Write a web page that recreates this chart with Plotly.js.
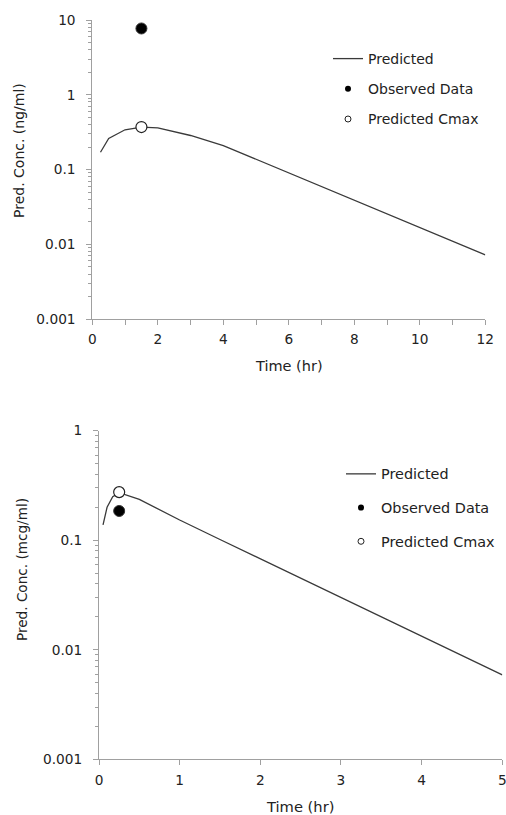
<!DOCTYPE html>
<html>
<head>
<meta charset="utf-8">
<script src="https://cdn.plot.ly/plotly-3.0.1.min.js"></script>
<style>html,body{margin:0;padding:0;background:#fff}#chart{width:506px;height:815px}</style>
</head>
<body>
<div id="chart"></div>
<script>
// Top chart (ng/ml)
const timeTop = [0.25, 0.5, 1, 1.5, 2, 3, 4, 5, 6, 7, 8, 9, 10, 11, 12];
const predTop = [0.17, 0.26, 0.34, 0.37, 0.36, 0.285, 0.209, 0.137, 0.090, 0.059, 0.0388, 0.0255, 0.0167, 0.011, 0.0072];
const obsTimeTop = [1.5];
const obsTop = [7.7];
const cmaxTimeTop = [1.5];
const cmaxTop = [0.37];

// Bottom chart (mcg/ml)
const timeBot = [0.05, 0.1, 0.17, 0.25, 0.5, 1, 1.5, 2, 3, 4, 5];
const predBot = [0.138, 0.2, 0.25, 0.272, 0.236, 0.153, 0.1016, 0.0677, 0.030, 0.0133, 0.0059];
const obsTimeBot = [0.25];
const obsBot = [0.185];
const cmaxTimeBot = [0.25];
const cmaxBot = [0.275];

const legendNames = ['Predicted', 'Observed Data', 'Predicted Cmax'];

const lineColor = '#3a3a3a';
const axisColor = '#a0a0a0';
const FONT = 'DejaVu Sans, Verdana, sans-serif';

function lineTrace(x, y, xa, ya) {
  return {x: x, y: y, xaxis: xa, yaxis: ya, mode: 'lines', type: 'scatter',
          line: {color: lineColor, width: 1.3}, showlegend: false, hoverinfo: 'skip'};
}
function obsTrace(x, y, xa, ya) {
  return {x: x, y: y, xaxis: xa, yaxis: ya, mode: 'markers', type: 'scatter',
          marker: {color: '#000', size: 11, line: {color: '#333', width: 1}}, showlegend: false};
}
function cmaxTrace(x, y, xa, ya) {
  return {x: x, y: y, xaxis: xa, yaxis: ya, mode: 'markers', type: 'scatter',
          marker: {color: '#fff', size: 11, line: {color: '#222', width: 1.2}}, showlegend: false};
}
function legendTraces(leg, xa, ya) {
  return [
    {x: [null], y: [null], xaxis: xa, yaxis: ya, mode: 'lines', type: 'scatter', name: legendNames[0],
     line: {color: lineColor, width: 1.3}, legend: leg, legendgroup: leg + 'a'},
    {x: [null], y: [null], xaxis: xa, yaxis: ya, mode: 'markers', type: 'scatter', name: legendNames[1],
     marker: {color: '#000', size: 6}, legend: leg, legendgroup: leg + 'b'},
    {x: [null], y: [null], xaxis: xa, yaxis: ya, mode: 'markers', type: 'scatter', name: legendNames[2],
     marker: {color: '#fff', size: 6, line: {color: '#222', width: 1}}, legend: leg, legendgroup: leg + 'c'}
  ];
}

const data = [
  lineTrace(timeTop, predTop, 'x', 'y'),
  obsTrace(obsTimeTop, obsTop, 'x', 'y'),
  cmaxTrace(cmaxTimeTop, cmaxTop, 'x', 'y'),
  lineTrace(timeBot, predBot, 'x2', 'y2'),
  obsTrace(obsTimeBot, obsBot, 'x2', 'y2'),
  cmaxTrace(cmaxTimeBot, cmaxBot, 'x2', 'y2')
].concat(legendTraces('legend', 'x', 'y'), legendTraces('legend2', 'x2', 'y2'));

const W = 506, H = 815;
const tickFont = {family: FONT, size: 13.7, color: '#222'};

function xAxis(domain, range, dtick, minorDtick, anchor) {
  const ax = {domain: domain, range: range, anchor: anchor, showgrid: false, zeroline: false,
    showline: true, linecolor: axisColor, linewidth: 1, ticks: 'outside', ticklen: 5, tickcolor: axisColor,
    tickmode: 'linear', tick0: 0, dtick: dtick, tickfont: tickFont, ticklabelstandoff: 3,
    ticklabeloverflow: 'allow', fixedrange: true};
  if (minorDtick) ax.minor = {ticks: 'outside', ticklen: 5, tickcolor: axisColor, dtick: minorDtick, showgrid: false};
  return ax;
}
function yAxis(domain, range, anchor) {
  return {domain: domain, range: range, type: 'log', anchor: anchor, showgrid: false, zeroline: false,
    showline: true, linecolor: axisColor, linewidth: 1, ticks: 'outside', ticklen: 5, tickcolor: axisColor,
    tickmode: 'linear', tick0: 0, dtick: 1, tickfont: tickFont, ticklabelstandoff: 8,
    ticklabeloverflow: 'allow', fixedrange: true,
    minor: {ticks: 'outside', ticklen: 3, tickcolor: axisColor, dtick: 'D1', showgrid: false}};
}

const layout = {
  width: W, height: H,
  margin: {l: 0, r: 0, t: 0, b: 0},
  paper_bgcolor: '#fff', plot_bgcolor: '#fff',
  font: {family: FONT, size: 13.7, color: '#222'},
  xaxis: xAxis([92.3 / W, 485.3 / W], [0, 12], 2, 1, 'y'),
  yaxis: yAxis([1 - 319 / H, 1 - 20 / H], [-3, 1], 'x'),
  xaxis2: xAxis([99 / W, 502.3 / W], [0, 5], 1, null, 'y2'),
  yaxis2: yAxis([1 - 759.3 / H, 1 - 430.7 / H], [-3, 0], 'x2'),
  legend: {x: 328 / W, y: 1 - 43 / H, xanchor: 'left', yanchor: 'top', bgcolor: 'rgba(0,0,0,0)',
           font: {family: FONT, size: 14, color: '#222'}, traceorder: 'grouped', tracegroupgap: 9},
  legend2: {x: 341 / W, y: 1 - 458 / H, xanchor: 'left', yanchor: 'top', bgcolor: 'rgba(0,0,0,0)',
            font: {family: FONT, size: 14.4, color: '#222'}, traceorder: 'grouped', tracegroupgap: 12},
  annotations: [
    {text: 'Pred. Conc. (ng/ml)', xref: 'paper', yref: 'paper', x: 19 / W, y: 1 - 151 / H, textangle: -90,
     showarrow: false, xanchor: 'center', yanchor: 'middle', font: {family: FONT, size: 14, color: '#222'}},
    {text: 'Time (hr)', xref: 'paper', yref: 'paper', x: 289 / W, y: 1 - 366 / H,
     showarrow: false, xanchor: 'center', yanchor: 'middle', font: {family: FONT, size: 14.5, color: '#222'}},
    {text: 'Pred. Conc. (mcg/ml)', xref: 'paper', yref: 'paper', x: 22 / W, y: 1 - 570 / H, textangle: -90,
     showarrow: false, xanchor: 'center', yanchor: 'middle', font: {family: FONT, size: 13.6, color: '#222'}},
    {text: 'Time (hr)', xref: 'paper', yref: 'paper', x: 300 / W, y: 1 - 806 / H,
     showarrow: false, xanchor: 'center', yanchor: 'middle', font: {family: FONT, size: 14.7, color: '#222'}}
  ]
};

Plotly.newPlot('chart', data, layout, {staticPlot: true, displayModeBar: false});
</script>
</body>
</html>
